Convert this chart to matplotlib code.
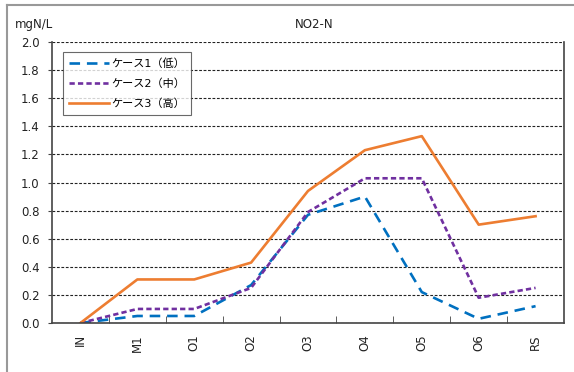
import numpy as np
import matplotlib.pyplot as plt
from matplotlib.lines import Line2D

plt.rcParams['font.family'] = ['DejaVu Sans', 'Noto Sans CJK JP']

# --- NO2-N concentrations (mgN/L) ---
sites = ['IN', 'M1', 'O1', 'O2', 'O3', 'O4', 'O5', 'O6', 'RS']
case1 = [0.0, 0.05, 0.05, 0.27, 0.77, 0.90, 0.22, 0.03, 0.12]
case2 = [0.0, 0.10, 0.10, 0.25, 0.79, 1.03, 1.03, 0.18, 0.25]
case3 = [0.0, 0.31, 0.31, 0.43, 0.94, 1.23, 1.33, 0.70, 0.76]
labels = ['ケース1（低）', 'ケース2（中）', 'ケース3（高）']

fig = plt.figure(figsize=(5.74, 3.72), dpi=100)
ax = fig.add_axes([0.0906, 0.1317, 0.892, 0.7554])

x = np.arange(len(sites))
ax.plot(x, case1, color='#0070C0', lw=1.9, dashes=(4, 2.6), label=labels[0])
ax.plot(x, case2, color='#7030A0', lw=1.9, dashes=(2, 1.2), label=labels[1])
ax.plot(x, case3, color='#ED7D31', lw=1.9, label=labels[2])

ax.set_xlim(-0.5, len(sites) - 0.5)
ax.set_ylim(0, 2.0)
ax.set_yticks(np.arange(0, 2.01, 0.2))
ax.set_yticklabels([f'{v:.1f}' for v in np.arange(0, 2.01, 0.2)])
ax.yaxis.grid(True, color='#222222', linestyle=(0, (2.5, 1.5)), lw=0.8)
ax.set_axisbelow(True)

# category labels at centres, tick marks between categories
ax.set_xticks(x)
ax.set_xticklabels(sites, rotation=90)
ax.set_xticks(np.arange(0.5, len(sites) - 1, 1.0), minor=True)
ax.tick_params(axis='x', which='major', length=0, pad=8, labelsize=8.5, colors='#222222')
ax.tick_params(axis='x', which='minor', direction='in', length=5, color='#444444')
ax.tick_params(axis='y', direction='out', length=3, pad=6, labelsize=8.5,
               colors='#444444', labelcolor='#222222')

for side in ['left', 'bottom', 'right']:
    ax.spines[side].set_color('#444444')
    ax.spines[side].set_linewidth(1.2)
ax.spines['top'].set_visible(False)

leg = ax.legend(loc='upper left', bbox_to_anchor=(0.021, 0.964), borderaxespad=0,
                fontsize=8, frameon=True, fancybox=False, edgecolor='#444444',
                handlelength=3.6, handletextpad=0.2, labelspacing=0.85,
                borderpad=0.55)
leg.get_frame().set_linewidth(0.8)

fig.text(0.026, 0.935, 'mgN/L', fontsize=8.5, color='#222222', va='center')
fig.text(0.547, 0.935, 'NO2-N', fontsize=8.5, color='#222222', ha='center', va='center')

# outer chart frame (left and top edges)
fig.add_artist(Line2D([0.012, 0.012], [0.0, 0.987], color='#999999', lw=1.5))
fig.add_artist(Line2D([0.012, 1.0], [0.987, 0.987], color='#999999', lw=1.5))

fig.savefig('out.png', dpi=100)
